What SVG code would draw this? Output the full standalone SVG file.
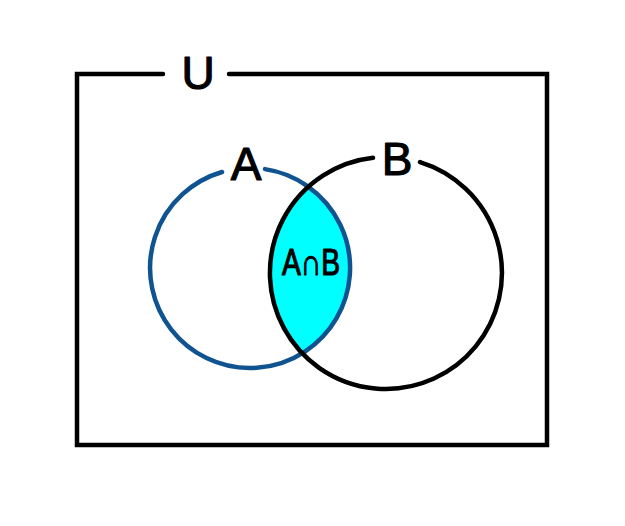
<svg xmlns="http://www.w3.org/2000/svg" width="625" height="526" viewBox="0 0 625 526">
  <style>
    .line { fill: none; stroke-width: 4.5; stroke-linecap: round; }
    .lbl { font-family: "Liberation Sans", "DejaVu Sans", sans-serif; fill: #000; stroke: #000; stroke-width: 1.2; stroke-linejoin: round; text-anchor: middle; }
  </style>
  <rect x="0" y="0" width="625" height="526" fill="#ffffff"/>
  <g id="intersection">
    <path d="M 308.37 186.8 A 100 100 0 0 1 302.25 353.26 A 116 116 0 0 1 308.37 186.8 Z" fill="#00ffff" stroke="none"/>
  </g>
  <g id="universe">
    <path class="line" stroke="#000" stroke-linecap="butt" stroke-width="4.5" stroke-linejoin="miter" d="M 163 74 H 77 V 445 H 547 V 74 H 229"/>
    <text class="lbl" x="198" y="89" font-size="46">U</text>
  </g>
  <g id="setA">
    <path class="line" stroke="#0f5390" d="M 265 169.1 A 100 100 0 1 1 222 172"/>
    <text class="lbl" x="246" y="180" font-size="46">A</text>
  </g>
  <g id="setB">
    <path class="line" stroke="#000" d="M 420 162.1 A 116 116 0 1 1 373 157.7"/>
    <text class="lbl" x="397" y="175" font-size="46">B</text>
  </g>
  <g id="intersection-label">
    <text class="lbl" x="311" y="275" font-size="37" textLength="58" lengthAdjust="spacingAndGlyphs">A∩B</text>
  </g>
</svg>
